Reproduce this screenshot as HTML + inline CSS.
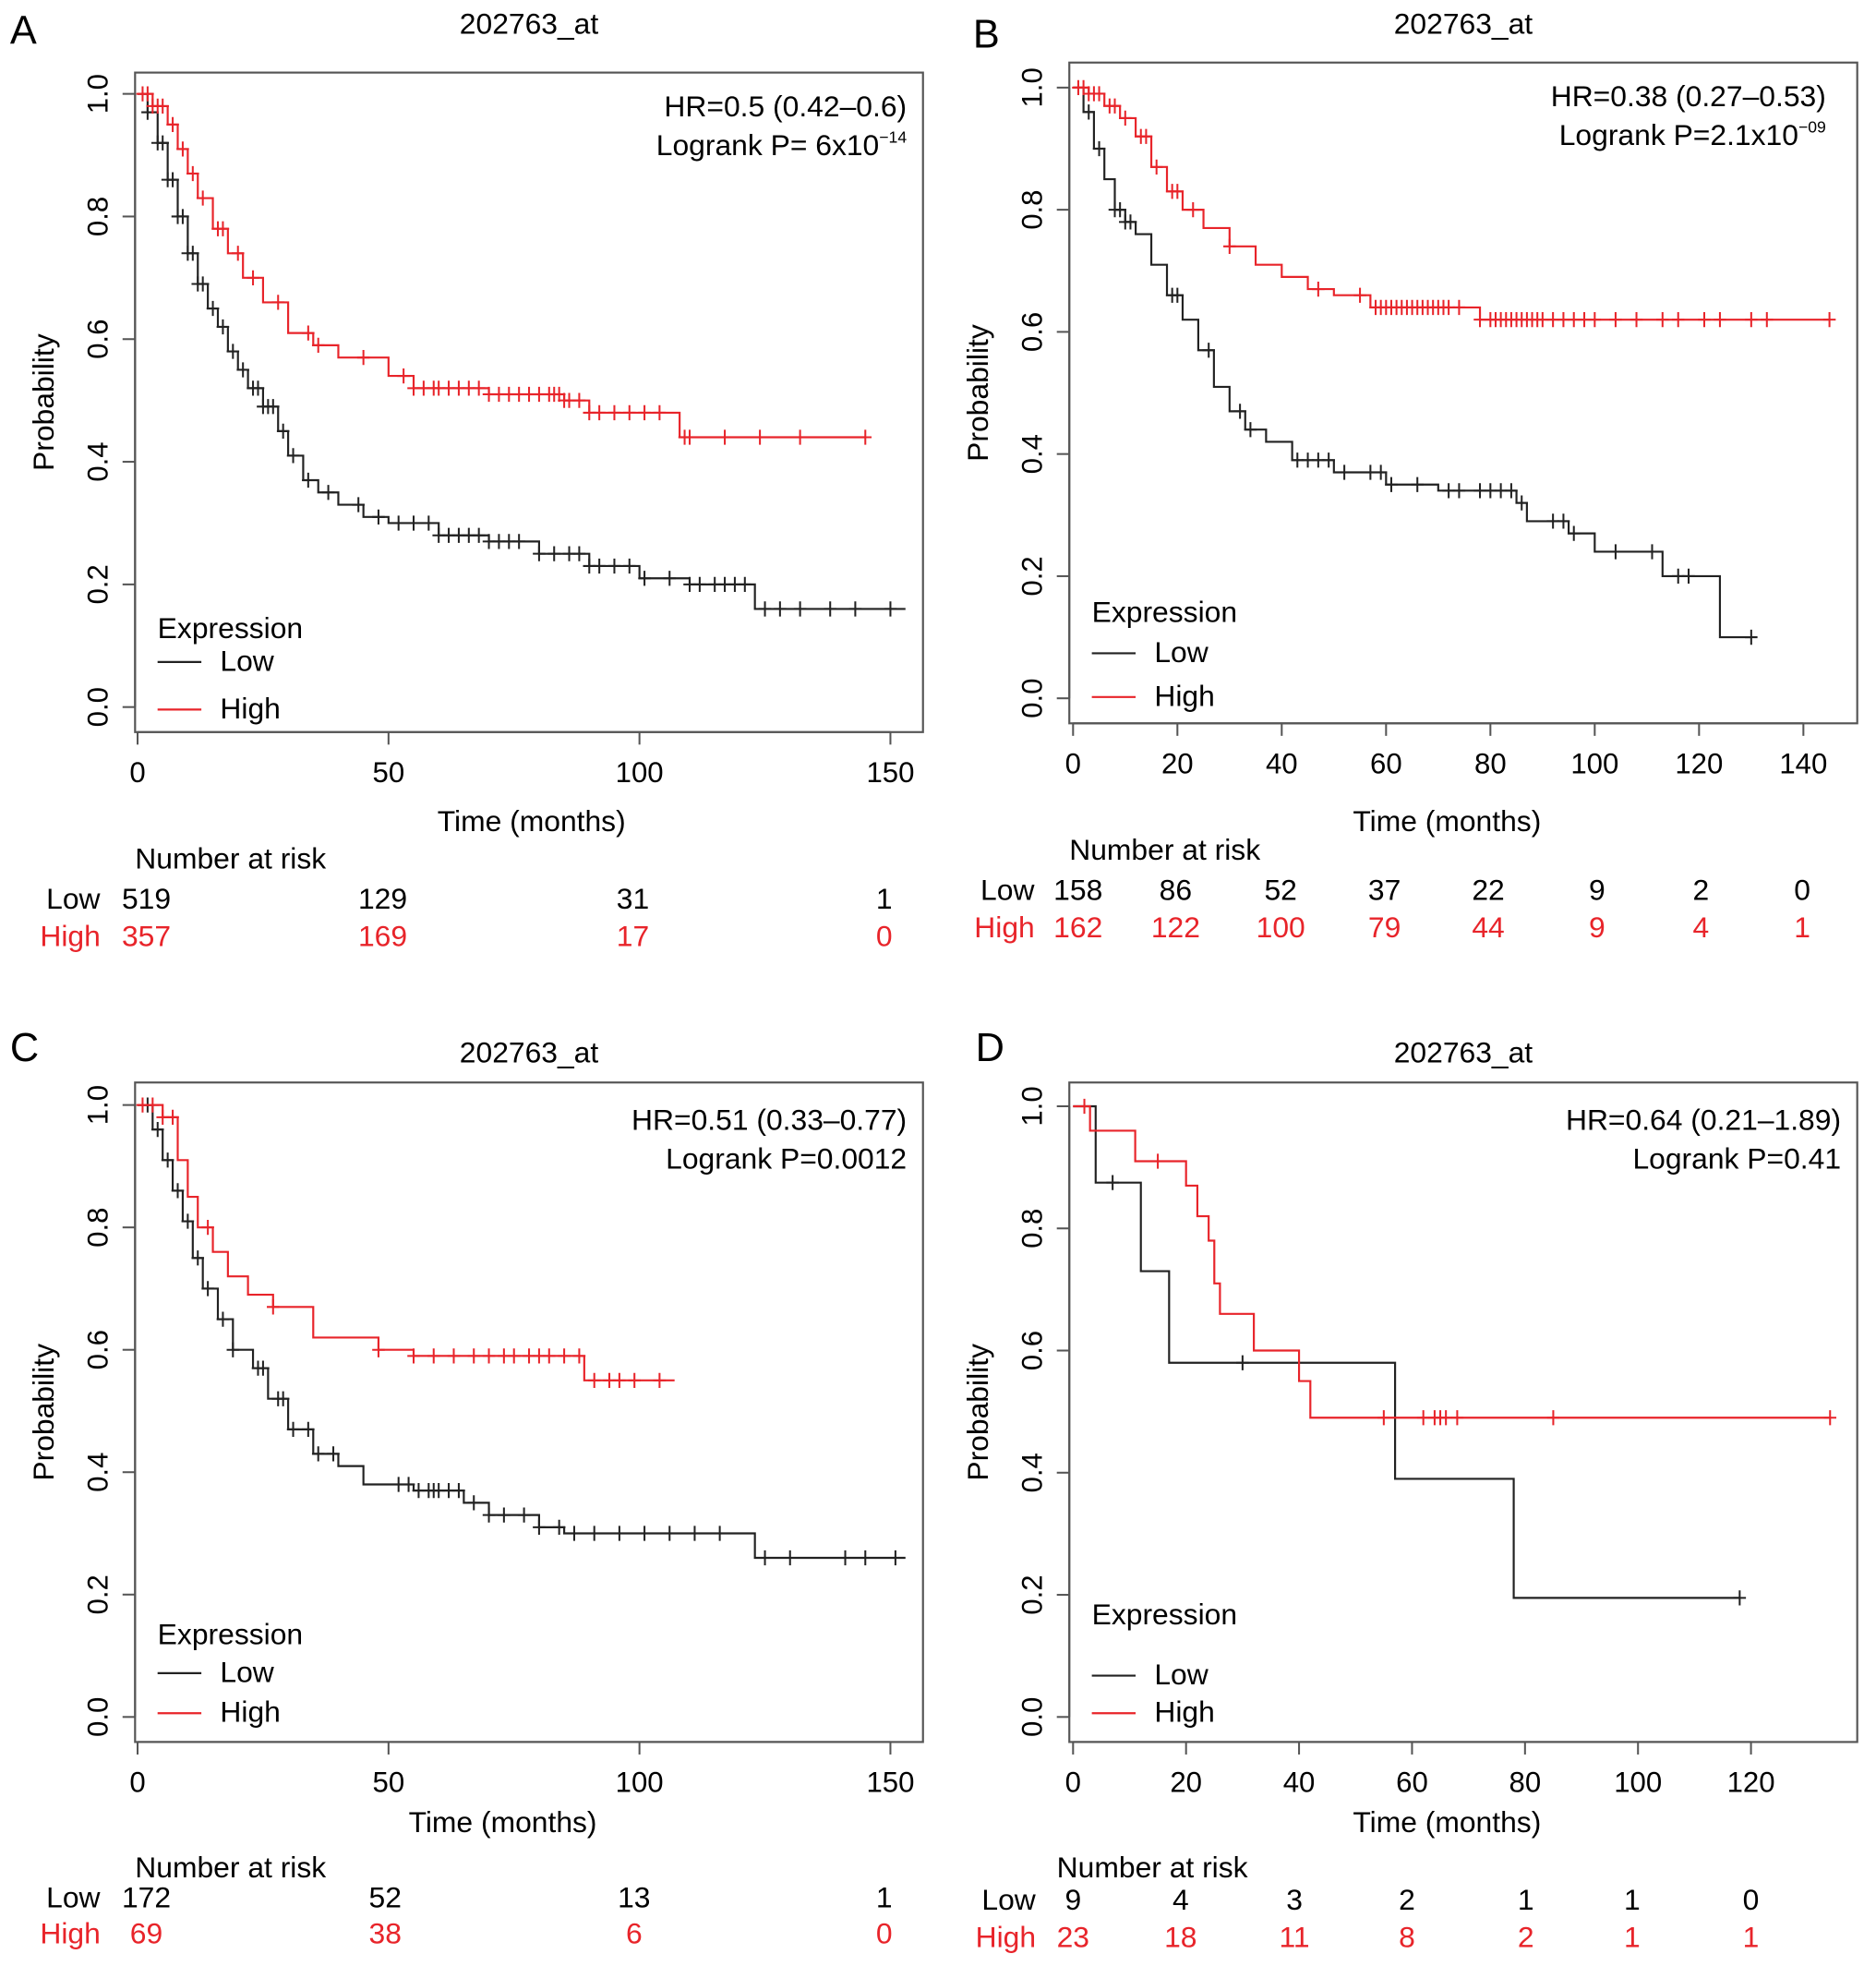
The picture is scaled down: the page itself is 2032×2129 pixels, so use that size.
<!DOCTYPE html>
<html><head><meta charset="utf-8"><style>
html,body{margin:0;padding:0;background:#fff;}
svg{display:block;font-family:"Liberation Sans",sans-serif;}
</style></head><body>
<svg id="fig" width="2032" height="2129" viewBox="0 0 1500 1571" preserveAspectRatio="none" xmlns="http://www.w3.org/2000/svg"></svg>
<script>
// ---- data ----
const aLow=[[0,1],[2,0.97],[4,0.92],[6,0.86],[8,0.8],[10,0.74],[12,0.69],[14,0.65],[16,0.62],[18,0.58],[20,0.55],[22,0.52],[25,0.49],[28,0.45],[30,0.41],[33,0.37],[36,0.35],[40,0.33],[45,0.31],[50,0.3],[60,0.28],[70,0.27],[80,0.25],[90,0.23],[100,0.21],[110,0.2],[123,0.16],[153,0.16]];
const aHigh=[[0,1],[3,0.98],[6,0.95],[8,0.91],[10,0.87],[12,0.83],[15,0.78],[18,0.74],[21,0.7],[25,0.66],[30,0.61],[35,0.59],[40,0.57],[50,0.54],[55,0.52],[70,0.51],[85,0.5],[90,0.48],[107,0.48],[108,0.44],[145,0.44]];
const aLowCens=[2,4,5,6,7,8,9,10,11,12,13,15,17,19,21,23,24,25,26,27,29,31,34,38,44,48,52,55,58,60,62,64,66,68,70,72,74,76,80,83,86,88,90,92,95,98,101,106,110,112,115,117,119,121,125,128,132,138,143,150];
const aHighCens=[1,2,3,4,5,7,9,11,13,16,17,20,23,28,34,36,45,53,55,57,59,60,62,64,66,68,70,72,74,76,78,80,82,83,84,85,86,88,90,92,95,98,101,104,109,110,117,124,132,145];
const bLow=[[0,1],[2,0.96],[4,0.9],[6,0.85],[8,0.8],[10,0.78],[12,0.76],[15,0.71],[18,0.66],[21,0.62],[24,0.57],[27,0.51],[30,0.47],[33,0.44],[37,0.42],[42,0.39],[50,0.37],[60,0.35],[70,0.34],[85,0.32],[87,0.29],[95,0.27],[100,0.24],[113,0.2],[124,0.1],[130,0.1]];
const bHigh=[[0,1],[3,0.99],[6,0.97],[9,0.95],[12,0.92],[15,0.87],[18,0.83],[21,0.8],[25,0.77],[30,0.74],[35,0.71],[40,0.69],[45,0.67],[50,0.66],[57,0.64],[78,0.62],[145,0.62]];
const bLowCens=[3,5,8,9,10,11,19,20,26,32,34,43,45,47,49,52,57,59,61,66,72,74,78,80,82,84,86,92,94,96,104,111,116,118,130];
const bHighCens=[1,2,3,4,5,7,8,10,13,14,16,19,20,23,30,47,55,58,59,60,61,62,63,64,65,66,67,68,69,70,71,72,74,78,80,81,82,83,84,85,86,87,88,89,90,92,94,96,98,100,104,108,113,116,121,124,130,133,145];
const cLow=[[0,1],[3,0.96],[5,0.91],[7,0.86],[9,0.81],[11,0.75],[13,0.7],[16,0.65],[19,0.6],[23,0.57],[26,0.52],[30,0.47],[35,0.43],[40,0.41],[45,0.38],[55,0.37],[65,0.35],[70,0.33],[80,0.31],[85,0.3],[123,0.26],[153,0.26]];
const cHigh=[[0,1],[5,0.98],[8,0.91],[10,0.85],[12,0.8],[15,0.76],[18,0.72],[22,0.69],[27,0.67],[35,0.62],[48,0.6],[55,0.59],[89,0.55],[107,0.55]];
const cLowCens=[2,4,6,8,10,12,14,17,19,24,25,28,29,31,34,36,39,52,54,56,58,59,60,62,64,67,70,73,77,80,84,87,91,96,101,106,111,116,125,130,141,145,151];
const cHighCens=[1,3,5,7,14,27,48,55,59,63,67,70,73,75,78,80,82,85,88,91,94,96,99,104];
const dLow=[[0,1],[4,0.875],[12,0.73],[17,0.58],[57,0.39],[78,0.195],[118,0.195]];
const dHigh=[[0,1],[3,0.96],[11,0.91],[20,0.87],[22,0.82],[24,0.78],[25,0.71],[26,0.66],[32,0.6],[40,0.55],[42,0.49],[134,0.49]];
const dLowCens=[7,30,118];
const dHighCens=[2,15,55,62,64,65,66,68,85,134];
const ticksAC=[0,50,100,150], ticksB=[0,20,40,60,80,100,120,140], ticksD=[0,20,40,60,80,100,120];
const yTicks=[0,0.2,0.4,0.6,0.8,1.0];
const riskA={low:[519,129,31,1],high:[357,169,17,0]};
const riskB={low:[158,86,52,37,22,9,2,0],high:[162,122,100,79,44,9,4,1]};
const riskC={low:[172,52,13,1],high:[69,38,6,0]};
const riskD={low:[9,4,3,2,1,1,0],high:[23,18,11,8,2,1,1]};

const NS="http://www.w3.org/2000/svg", svg=document.getElementById('fig');
const FS=23.5;
function mk(tag,attrs,parent,txt){const e=document.createElementNS(NS,tag);for(const k in attrs)e.setAttribute(k,attrs[k]);if(txt!==undefined)e.textContent=txt;(parent||svg).appendChild(e);return e;}
function stepAt(s,t){let v=s[0][1];for(const p of s){if(p[0]<=t)v=p[1];}return v;}

function panel(P){
  const g=mk('g',{});
  
  
  const X=t=>P.x0+t*P.sx, Y=v=>P.y0-v*P.sy;
  const t0=mk('text',{x:P.lx,y:P.ly,'font-size':32},g,P.id);
  
  const t1=mk('text',{x:(P.bx1+P.bx2)/2,y:P.ty,'font-size':FS,'text-anchor':'middle'},g,'202763_at');
  
  const box=mk('rect',{x:P.bx1,y:P.by1,width:P.bx2-P.bx1,height:P.by2-P.by1,fill:'none',stroke:'#555','stroke-width':1.6},g);
  
  P.xt.forEach(t=>{mk('line',{x1:X(t),x2:X(t),y1:P.by2,y2:P.by2+10,stroke:'#555','stroke-width':1.5},g);
    const l=mk('text',{x:X(t),y:P.by2+40,'font-size':23,'text-anchor':'middle'},g,t);});
  mk('line',{x1:X(P.xt[0]),x2:X(P.xt[P.xt.length-1]),y1:P.by2,y2:P.by2,stroke:'#555','stroke-width':1.5},g);
  yTicks.forEach(v=>{mk('line',{x1:P.bx1,x2:P.bx1-10,y1:Y(v),y2:Y(v),stroke:'#555','stroke-width':1.5},g);
    const l=mk('text',{x:P.bx1-22,y:Y(v),'font-size':23,'text-anchor':'middle',transform:`rotate(-90 ${P.bx1-22} ${Y(v)})`},g,v.toFixed(1));});
  mk('line',{x1:P.bx1,x2:P.bx1,y1:Y(0),y2:Y(1),stroke:'#555','stroke-width':1.5},g);
  const yl=mk('text',{x:P.bx1-65,y:(P.by1+P.by2)/2,'font-size':FS,'text-anchor':'middle',transform:`rotate(-90 ${P.bx1-65} ${(P.by1+P.by2)/2})`},g,'Probability');
  
  const xl=mk('text',{x:P.xtx,y:P.xty,'font-size':FS,'text-anchor':'middle'},g,'Time (months)');
  
  [[P.low,P.lowC,'#222','low'],[P.high,P.highC,'#e8242a','high']].forEach(([s,c,col,nm])=>{
    let d=`M${X(s[0][0])},${Y(s[0][1])}`;
    for(let i=1;i<s.length;i++){d+=`H${X(s[i][0])}V${Y(s[i][1])}`;}
    const p=mk('path',{d:d,fill:'none',stroke:col,'stroke-width':1.6},g);
    
    c.forEach(t=>{const x=X(t),y=Y(stepAt(s,t));
      const m=mk('path',{d:`M${x-5},${y}H${x+5}M${x},${y-6}V${y+6}`,stroke:col,'stroke-width':1.5},g);
      });
  });
  const hr=mk('text',{x:P.hx,y:P.hy,'font-size':FS,'text-anchor':'end'},g);
  hr.textContent=P.hr;
  const lp=mk('text',{x:P.hx,y:P.hy+31,'font-size':FS,'text-anchor':'end'},g);
  
  if(P.exp){mk('tspan',{},lp,P.lp);mk('tspan',{'font-size':13,dy:-10},lp,P.exp);}else lp.textContent=P.lp;
  const L=P.leg;
  const le=mk('text',{x:L[0],y:L[1],'font-size':FS},g,'Expression');
  [['Low','#222',L[2]],['High','#e8242a',L[3]]].forEach(([n,c,yy])=>{
    mk('line',{x1:L[0],x2:L[0]+35,y1:yy-7,y2:yy-7,stroke:c,'stroke-width':1.6},g);
    const t=mk('text',{x:L[0]+50,y:yy,'font-size':FS},g,n);});
  const R=P.risk;
  const rh=mk('text',{x:R.hx,y:R.hy,'font-size':FS},g,'Number at risk');
  mk('text',{x:R.lx,y:R.y1,'font-size':FS},g,'Low');
  mk('text',{x:R.lx-5,y:R.y2,'font-size':FS,fill:'#e8242a'},g,'High');
  P.rd.low.forEach((v,i)=>{const t=mk('text',{x:R.xs[i],y:R.y1,'font-size':FS,'text-anchor':'middle'},g,v);});
  P.rd.high.forEach((v,i)=>{const t=mk('text',{x:R.xs[i],y:R.y2,'font-size':FS,'text-anchor':'middle',fill:'#e8242a'},g,v);});
}
panel({id:'A',lx:8,ly:35,ty:27,bx1:108,bx2:738,by1:58,by2:585,x0:110,sx:4.013,y0:565,sy:490,xt:ticksAC,xtx:425,xty:664,
 low:aLow,high:aHigh,lowC:aLowCens,highC:aHighCens,hr:'HR=0.5 (0.42\u20130.6)',lp:'Logrank P= 6x10',exp:'\u221214',hx:725,hy:93,
 leg:[126,510,536,574],risk:{hx:108,hy:694,lx:37,y1:726,y2:756,xs:[117,306,506,707]},rd:riskA});
panel({id:'B',lx:778,ly:38,ty:27,bx1:855,bx2:1485,by1:50,by2:578,x0:858,sx:4.171,y0:558,sy:488,xt:ticksB,xtx:1157,xty:664,
 low:bLow,high:bHigh,lowC:bLowCens,highC:bHighCens,hr:'HR=0.38 (0.27\u20130.53)',lp:'Logrank P=2.1x10',exp:'\u221209',hx:1460,hy:85,
 leg:[873,497,529,564],risk:{hx:855,hy:687,lx:784,y1:719,y2:749,xs:[862,940,1024,1107,1190,1277,1360,1441]},rd:riskB});
panel({id:'C',lx:8,ly:848,ty:849,bx1:108,bx2:738,by1:865,by2:1392,x0:110,sx:4.013,y0:1372,sy:489,xt:ticksAC,xtx:402,xty:1464,
 low:cLow,high:cHigh,lowC:cLowCens,highC:cHighCens,hr:'HR=0.51 (0.33\u20130.77)',lp:'Logrank P=0.0012',hx:725,hy:903,
 leg:[126,1314,1344,1376],risk:{hx:108,hy:1500,lx:37,y1:1524,y2:1553,xs:[117,308,507,707]},rd:riskC});
panel({id:'D',lx:780,ly:848,ty:849,bx1:855,bx2:1485,by1:865,by2:1392,x0:858,sx:4.517,y0:1372,sy:488,xt:ticksD,xtx:1157,xty:1464,
 low:dLow,high:dHigh,lowC:dLowCens,highC:dHighCens,hr:'HR=0.64 (0.21\u20131.89)',lp:'Logrank P=0.41',hx:1472,hy:903,
 leg:[873,1298,1346,1376],risk:{hx:845,hy:1500,lx:785,y1:1526,y2:1556,xs:[858,944,1035,1125,1220,1305,1400]},rd:riskD});
</script>
</body></html>
